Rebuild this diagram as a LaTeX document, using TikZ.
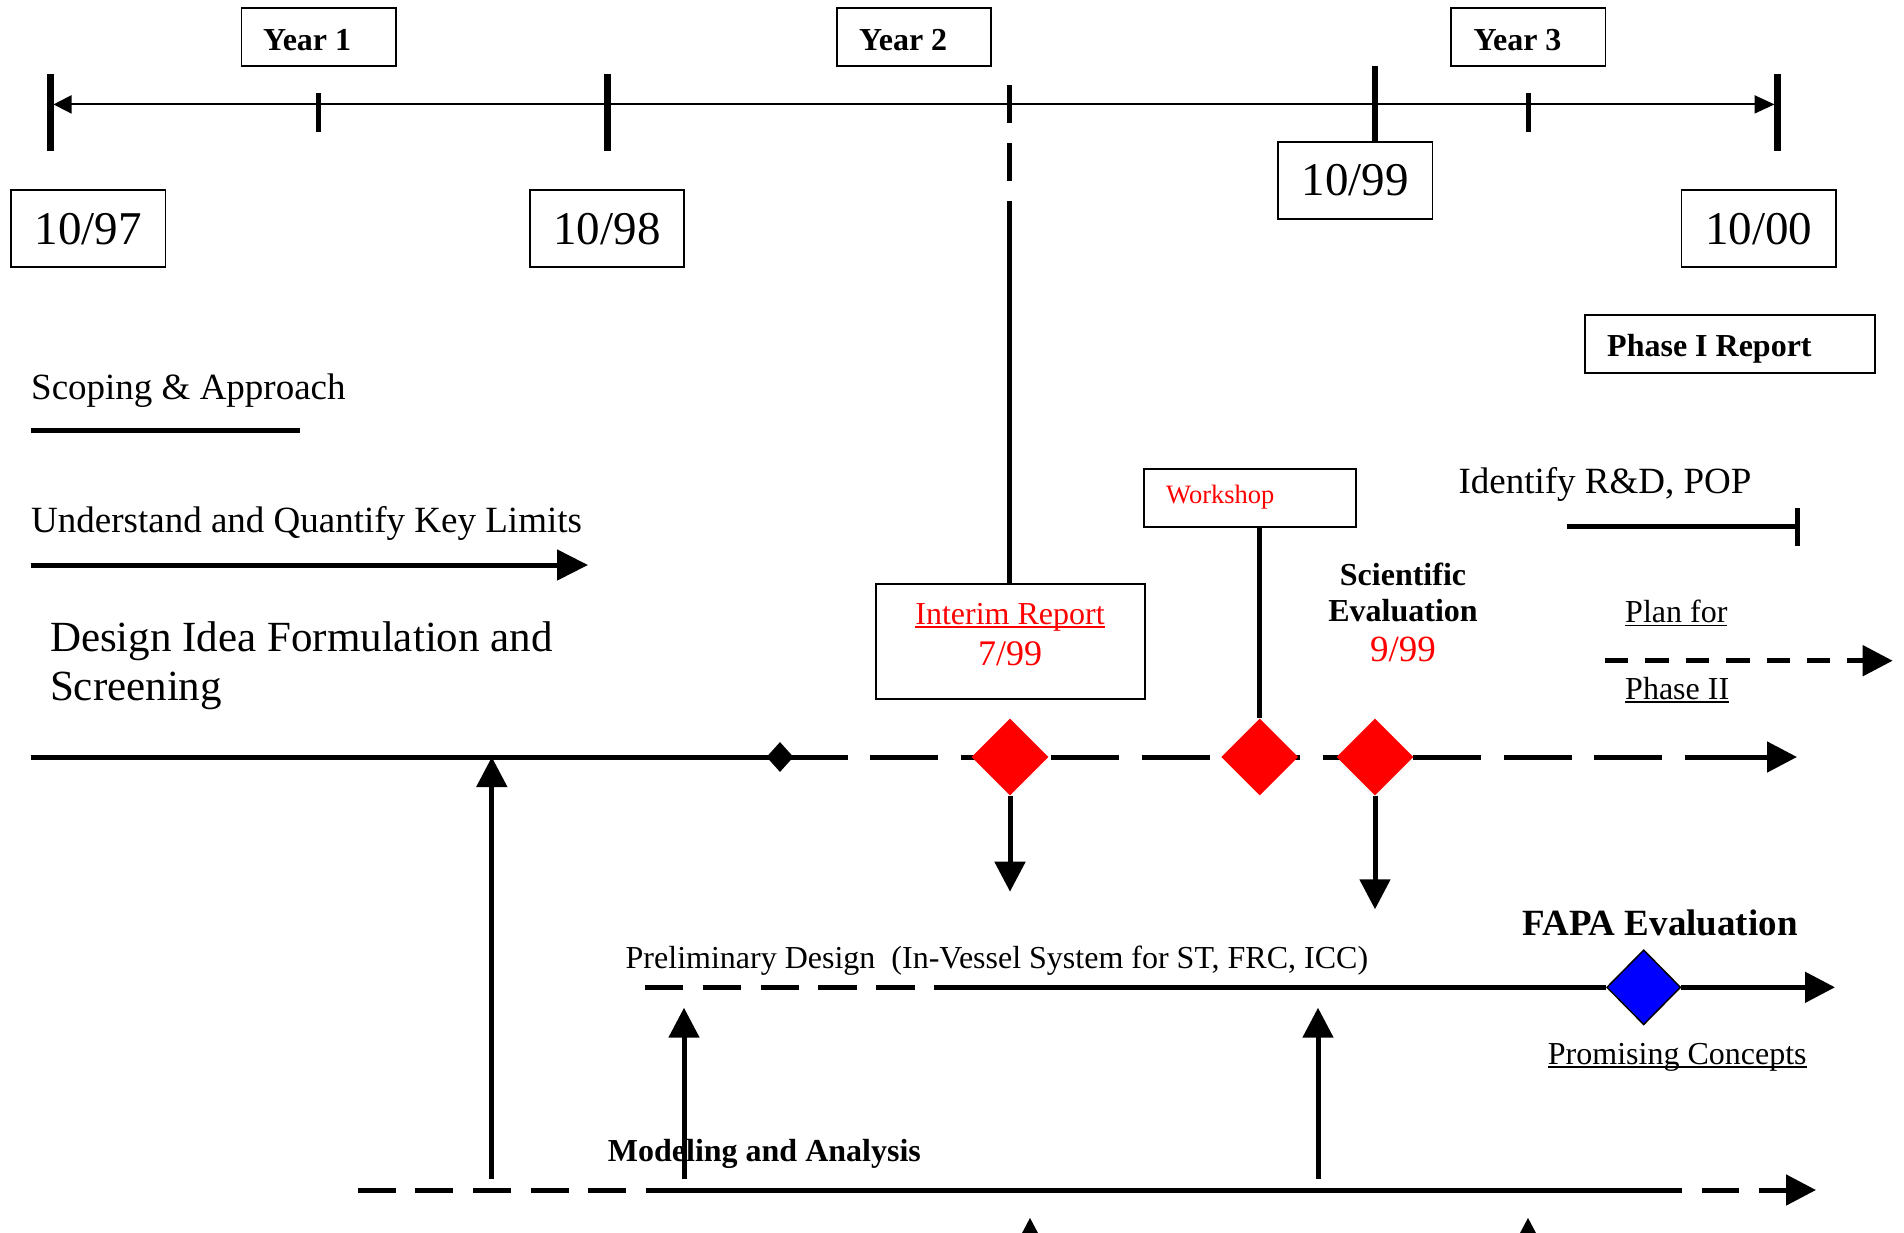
\documentclass[tikz,border=0pt]{standalone}
\usepackage{fontspec}
\setmainfont{Liberation Serif}
\usetikzlibrary{arrows.meta,shapes.geometric}
\pgfdeclarelayer{bg}
\pgfsetlayers{bg,main}
\definecolor{myred}{RGB}{255,0,0}
\definecolor{myblue}{RGB}{0,0,255}
\newcommand{\fsz}[1]{\fontsize{#1pt}{#1pt}\selectfont}
\newcommand{\myul}[1]{\setbox0\hbox{#1}\rlap{\rule[-3.5pt]{\wd0}{1.5pt}}\box0}
\begin{document}
\begin{tikzpicture}[x=1pt,y=-1pt,
  lbl/.style={inner sep=0pt, anchor=base west},
  clbl/.style={inner sep=0pt, anchor=base},
  boxd/.style={draw, line width=1.8pt, inner sep=0pt},
  datebox/.style={boxd, minimum width=154.5pt, minimum height=77.3pt, font=\fsz{47}},
  yearbox/.style={boxd, minimum width=154.5pt, minimum height=58pt},
  thk/.style={line width=5pt},
  arr/.style={line width=5pt, -{Triangle[length=30pt,width=30pt]}},
  reddia/.style={diamond, fill=myred, inner sep=0pt, minimum width=77pt, minimum height=77pt},
]
\clip (0,0) rectangle (1904,1232);
\begin{pgfonlayer}{bg}
\fill[white] (0,0) rectangle (1904,1232);
\end{pgfonlayer}

% ---------- timeline ----------
\coordinate (axL) at (53.5,104.4);
\coordinate (axR) at (1774.5,104.4);
\draw[line width=2pt, {Triangle[length=18pt,width=18pt]}-{Triangle[length=20pt,width=18pt]}] (axL) -- (axR);
\draw[line width=7pt] (50,74) -- (50,150.7);
\draw[line width=7pt] (607,74) -- (607,150.7);
\draw[line width=7pt] (1777.7,74) -- (1777.7,150.7);
\draw[line width=5pt] (318,93) -- (318,132);
\draw[line width=5pt] (1528,93) -- (1528,132);

\node[yearbox] (y1) at (318.75,37) {};
\node[lbl, font=\fsz{32}\bfseries] (y1t) at (263,50) {Year 1};
\node[yearbox] (y2) at (914,37) {};
\node[lbl, font=\fsz{32}\bfseries] (y2t) at (859,50) {Year 2};
\node[yearbox] (y3) at (1528.25,37) {};
\node[lbl, font=\fsz{32}\bfseries] (y3t) at (1473.3,50) {Year 3};

\node[datebox] (b97) at (88.3,228.6) {10/97};
\node[datebox] (b98) at (607,228.6) {10/98};
\node[datebox] (b99) at (1355.2,180.5) {10/99};
\node[datebox] (b00) at (1758.8,228.6) {10/00};
\coordinate (t99) at (1374.5,66);
\draw[line width=6pt] (t99) -- (t99 |- b99.north);

\node[boxd, minimum width=289.3pt, minimum height=58.3pt] (ph1) at (1730,344.15) {};
\node[lbl, font=\fsz{32}\bfseries] (ph1t) at (1607,356) {Phase I Report};

% ---------- left activities ----------
\node[lbl, font=\fsz{37}] (scop) at (31,399.3) {Scoping \& Approach};
\coordinate (scA) at (31,430);
\coordinate (scB) at (299.8,430);
\draw[thk] (scA) -- (scB);

\node[lbl, font=\fsz{37}] (und) at (31,532.7) {Understand and Quantify Key Limits};
\coordinate (unA) at (31,565);
\coordinate (unB) at (588,565);
\draw[line width=5pt, -{Triangle[length=31pt,width=30pt]}] (unA) -- (unB);

\node[lbl, font=\fsz{43}] (des1) at (49.8,651.7) {Design Idea Formulation and};
\node[lbl, font=\fsz{43}] (des2) at (49.8,700) {Screening};

% ---------- interim report / workshop ----------
\node[boxd, minimum width=268.7pt, minimum height=115pt] (ir) at (1010.25,641.8) {};
\node[clbl, font=\fsz{32}, text=myred] (irt) at (1010,624) {\myul{Interim Report}};
\node[clbl, font=\fsz{36}, text=myred] (ird) at (1010,665) {7/99};
\coordinate (vT) at (1009.5,85);
\coordinate (vM) at (1009.5,201);
\draw[thk, dash pattern=on 38pt off 20pt] (vT) -- (vM);
\draw[thk] (vM) -- (vM |- ir.north);

\node[boxd, minimum width=211.6pt, minimum height=57.7pt] (ws) at (1250,497.85) {};
\node[lbl, font=\fsz{26.5}, text=myred] (wst) at (1166,503.3) {Workshop};

\node[clbl, font=\fsz{32}\bfseries] (sci1) at (1403,585) {Scientific};
\node[clbl, font=\fsz{32}\bfseries] (sci2) at (1403,621.7) {Evaluation};
\node[clbl, font=\fsz{37}, text=myred] (sci3) at (1403,661.7) {9/99};

% ---------- right side ----------
\node[lbl, font=\fsz{37}] (idt) at (1458.3,493.3) {Identify R\&D, POP};
\coordinate (idA) at (1566.7,526.7);
\coordinate (idB) at (1797.3,526.7);
\draw[thk] (idA) -- (idB);
\draw[thk] (1797.3,507.7) -- (1797.3,545.7);

\node[lbl, font=\fsz{32}] (pl1) at (1625,622.7) {\myul{Plan for}};
\node[lbl, font=\fsz{32}] (pl2) at (1625,699.3) {\myul{Phase II}};
\coordinate (plA) at (1605,660.7);
\coordinate (plB) at (1892.7,660.7);
\draw[line width=5pt, dash pattern=on 23.3pt off 17.1pt, -{Triangle[length=30pt,width=30pt]}] (plA) -- (plB);

% ---------- main design line ----------
\node[diamond, fill=black, inner sep=0pt, minimum width=27pt, minimum height=30pt] (sd) at (780,757) {};
\node[reddia] (d1) at (1010,757) {};
\node[reddia] (d2) at (1259.8,757) {};
\node[reddia] (d3) at (1375,757) {};
\coordinate (mA) at (31,757);
\coordinate (mB) at (847.7,757);
\coordinate (mC) at (870,757);
\coordinate (mD) at (1684.5,757);
\coordinate (mE) at (1797,757);
\begin{pgfonlayer}{bg}
\draw[thk] (mA) -- (mB);
\draw[thk, dash pattern=on 68pt off 22.5pt] (mC) -- (mD);
\end{pgfonlayer}
\draw[arr] (mD) -- (mE);
\draw[thk] (d2 |- ws.south) -- (d2.north);
\coordinate (d1tip) at (1010,891.7);
\coordinate (d3tip) at (1375,909.3);
\draw[arr] (d1.south) -- (d1tip);
\draw[arr] (d3.south) -- (d3tip);

% ---------- preliminary design line ----------
\node[lbl, font=\fsz{32}] (pdt) at (625.5,968.3) {Preliminary Design\ \ (In-Vessel System for ST, FRC, ICC)};
\node[diamond, fill=myblue, draw=black, line width=1.5pt, inner sep=0pt, minimum width=74pt, minimum height=75pt] (bd) at (1643.7,987.3) {};
\node[lbl, font=\fsz{37}\bfseries] (fapa) at (1522.3,935) {FAPA Evaluation};
\node[lbl, font=\fsz{32}] (prom) at (1547.7,1064.3) {\myul{Promising Concepts}};
\coordinate (pA) at (644.9,987.3);
\coordinate (pB) at (933.9,987.3);
\coordinate (pC) at (1835,987.3);
\draw[thk, dash pattern=on 38.5pt off 19.3pt] (pA) -- (pB);
\draw[thk] (pB) -- (bd.west);
\draw[arr] (bd.east) -- (pC);

% ---------- modeling and analysis line ----------
\node[lbl, font=\fsz{32}\bfseries] (mod) at (607.7,1161.5) {Modeling and Analysis};
\coordinate (bA) at (357.7,1190);
\coordinate (bB) at (645.7,1190);
\coordinate (bC) at (1681.7,1190);
\coordinate (bD) at (1701.7,1190);
\coordinate (bE) at (1739.3,1190);
\coordinate (bF) at (1759.3,1190);
\coordinate (bG) at (1816,1190);
\draw[thk, dash pattern=on 38pt off 19.6pt] (bA) -- (bB);
\draw[thk] (bB) -- (bC);
\draw[thk] (bD) -- (bE);
\draw[arr] (bF) -- (bG);

% up arrows
\coordinate (u1s) at (491.8,1179);
\coordinate (u2s) at (684,1179);
\coordinate (u3s) at (1318,1179);
\draw[arr] (u1s) -- (u1s |- mA);
\draw[arr] (u2s) -- (684,1007.7);
\draw[arr] (u3s) -- (1318,1007.7);
\draw[arr] (1030,1300) -- (1030,1217.7);
\draw[arr] (1528,1300) -- (1528,1217.7);
\end{tikzpicture}
\end{document}
